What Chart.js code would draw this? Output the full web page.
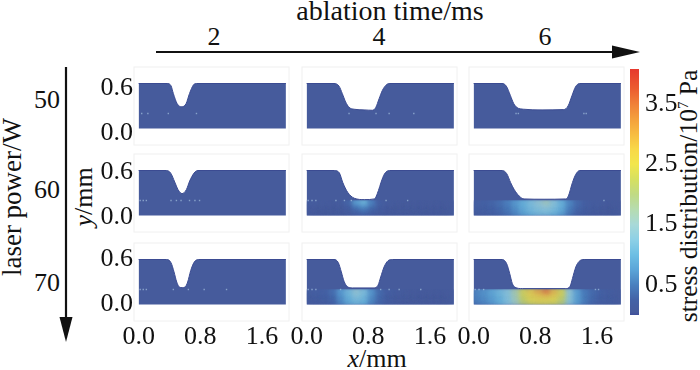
<!DOCTYPE html>
<html>
<head>
<meta charset="utf-8">
<script src="https://cdn.jsdelivr.net/npm/chart.js@4"></script>
<style>
  html, body { margin: 0; padding: 0; background: #fff; }
  #page { position: relative; width: 700px; height: 370px; overflow: hidden; font-family: "Liberation Serif", serif; color: #111; }
  #page canvas { position: absolute; }
  .label { position: absolute; font-size: 26px; line-height: 1; white-space: nowrap; transform: translate(-50%, -50%); }
  .vert { transform: translate(-50%, -50%) rotate(-90deg); }
  sup { font-size: 15px; line-height: 0; }
  svg { position: absolute; left: 0; top: 0; }
</style>
</head>
<body>
<div id="page">
  <svg width="700" height="370">
    <line x1="156" y1="52" x2="616" y2="52" stroke="#111" stroke-width="2.2"/>
    <polygon points="640,52 612,45.5 612,58.5" fill="#111"/>
    <line x1="66" y1="67" x2="66" y2="322" stroke="#111" stroke-width="2.2"/>
    <polygon points="66,342 59.5,317 72.5,317" fill="#111"/>
  </svg>
  <div class="label" style="left:390px;top:11px;font-size:28px">ablation time/ms</div>
  <div class="label" style="left:214px;top:37px">2</div>
  <div class="label" style="left:379px;top:37px">4</div>
  <div class="label" style="left:545px;top:37px">6</div>
  <div class="label" style="left:47px;top:100px">50</div>
  <div class="label" style="left:47px;top:190px">60</div>
  <div class="label" style="left:47px;top:283px">70</div>
  <div class="label vert" style="left:12px;top:197px;font-size:27px">laser power/W</div>
  <div class="label vert" style="left:84px;top:197px"><i>y</i>/mm</div>
  <div class="label" style="left:377px;top:359px"><i>x</i>/mm</div>
  <div class="label vert" style="left:689px;top:196px;font-size:25.5px">stress distribution/10<sup>7</sup> Pa</div>
</div>
<script>
const xTicks = [0, 0.8, 1.6];
const yTicks = [0, 0.6];
const colorbarTicks = [0.5, 1.5, 2.5, 3.5];
const colorbarRange = [0, 4.08];

// surface profile of the ablated groove, [x mm, y mm]
const profile50w2ms = [[0,0.6],[0.37,0.6],[0.42,0.57],[0.45,0.467],[0.5,0.33],[0.56,0.29],[0.615,0.33],[0.66,0.467],[0.71,0.58],[0.75,0.6],[1.91,0.6]];
const profile50w4ms = [[0,0.6],[0.355,0.6],[0.42,0.565],[0.463,0.465],[0.506,0.354],[0.55,0.283],[0.615,0.257],[0.745,0.248],[0.853,0.243],[0.896,0.279],[0.94,0.398],[0.983,0.509],[1.026,0.575],[1.07,0.6],[1.91,0.6]];
const profile50w6ms = [[0,0.6],[0.368,0.6],[0.424,0.565],[0.476,0.442],[0.52,0.332],[0.563,0.279],[0.649,0.257],[0.887,0.248],[1.169,0.252],[1.225,0.301],[1.277,0.442],[1.32,0.553],[1.372,0.6],[1.91,0.6]];
const profile60w2ms = [[0,0.6],[0.359,0.6],[0.416,0.565],[0.468,0.447],[0.511,0.345],[0.563,0.292],[0.619,0.345],[0.662,0.46],[0.719,0.566],[0.77,0.6],[1.91,0.6]];
const profile60w4ms = [[0,0.6],[0.359,0.6],[0.424,0.569],[0.468,0.442],[0.532,0.31],[0.619,0.23],[0.749,0.212],[0.879,0.221],[0.931,0.332],[0.965,0.442],[1.009,0.553],[1.074,0.6],[1.91,0.6]];
const profile60w6ms = [[0,0.6],[0.372,0.6],[0.429,0.558],[0.48,0.438],[0.524,0.35],[0.589,0.261],[0.654,0.221],[0.913,0.217],[1.195,0.221],[1.229,0.261],[1.281,0.438],[1.325,0.549],[1.377,0.6],[1.91,0.6]];
const profile70w2ms = [[0,0.6],[0.364,0.6],[0.42,0.557],[0.459,0.434],[0.494,0.3],[0.528,0.233],[0.565,0.225],[0.602,0.233],[0.636,0.3],[0.675,0.451],[0.719,0.562],[0.775,0.6],[1.91,0.6]];
const profile70w4ms = [[0,0.6],[0.355,0.6],[0.411,0.558],[0.45,0.434],[0.485,0.31],[0.528,0.239],[0.593,0.221],[0.874,0.221],[0.926,0.257],[0.961,0.367],[1.004,0.5],[1.056,0.584],[1.113,0.6],[1.91,0.6]];
const profile70w6ms = [[0,0.6],[0.372,0.6],[0.429,0.543],[0.468,0.412],[0.502,0.279],[0.537,0.23],[0.632,0.212],[1.195,0.212],[1.251,0.243],[1.281,0.345],[1.325,0.5],[1.368,0.575],[1.433,0.6],[1.91,0.6]];

// small bright spots along the weld line
const specks50w2ms = [[0.04,0.2],[0.12,0.2],[0.385,0.2],[0.75,0.2]];
const specks50w4ms = [[0.55,0.2],[0.9,0.2],[1.07,0.2],[1.39,0.2]];
const specks50w6ms = [[0.55,0.2],[0.58,0.2],[1.43,0.2],[1.46,0.2]];
const specks60w2ms = [[0.02,0.2],[0.06,0.2],[0.1,0.2],[0.42,0.2],[0.49,0.2],[0.55,0.2],[0.66,0.2],[0.73,0.2],[0.79,0.2]];
const specks60w4ms = [[0.02,0.2],[0.07,0.2],[0.12,0.2],[0.38,0.2],[0.49,0.2],[0.58,0.2],[1.03,0.2],[1.31,0.2]];
const specks60w6ms = [[1.69,0.2]];
const specks70w2ms = [[0.02,0.2],[0.06,0.2],[0.1,0.2],[0.45,0.2],[0.645,0.2],[0.85,0.2],[1.14,0.2]];
const specks70w4ms = [[0.02,0.2],[0.07,0.2],[0.12,0.2],[0.44,0.2],[0.96,0.2],[1.07,0.2],[1.2,0.2],[1.48,0.2]];
const specks70w6ms = [[0.02,0.2],[0.07,0.2],[0.13,0.2],[1.58,0.2],[1.62,0.2]];

// stress field below the groove, 10^7 Pa
const heatColumns = [0.05,0.15,0.25,0.35,0.45,0.55,0.65,0.75,0.85,0.95,1.05,1.15,1.25,1.35,1.45,1.55,1.65,1.75,1.85];
const heatRows = [[0.15,0.205],[0.1,0.15],[0.05,0.1],[0,0.05]];
const heat60w4ms = [
  [.12,.1,.08,.07,.1,.3,.8,1.05,.55,.2,.1,.07,.05,.05,.05,.05,.05,.05,.05],
  [.08,.07,.06,.06,.08,.2,.5,.65,.38,.15,.08,.05,.05,.05,.05,.05,.05,.05,.05],
  [.06,.05,.05,.05,.06,.14,.32,.42,.26,.12,.06,.05,.05,.05,.05,.05,.05,.05,.05],
  [.05,.05,.05,.05,.05,.1,.2,.26,.18,.09,.05,.05,.05,.05,.05,.05,.05,.05,.05]
];
const heat60w6ms = [
  [.2,.25,.3,.4,.55,.75,1,1.2,1.4,1.6,1.3,1,.6,.35,.2,.12,.1,.06,.05],
  [.18,.22,.28,.37,.5,.7,.95,1.15,1.3,1.4,1.2,.95,.55,.32,.18,.11,.08,.05,.05],
  [.15,.2,.25,.33,.46,.65,.9,1.1,1.2,1.25,1.12,.88,.5,.28,.16,.1,.07,.05,.05],
  [.12,.17,.22,.3,.42,.6,.82,1,1.1,1.12,1,.78,.45,.25,.14,.09,.06,.05,.05]
];
const heat70w4ms = [
  [.15,.2,.25,.4,.75,1.1,1.4,1.2,.7,.35,.2,.12,.08,.05,.05,.05,.05,.05,.05],
  [.13,.17,.22,.35,.7,1.05,1.3,1.12,.66,.33,.17,.1,.07,.05,.05,.05,.05,.05,.05],
  [.11,.14,.19,.3,.65,.95,1.15,1.05,.6,.31,.16,.09,.06,.05,.05,.05,.05,.05,.05],
  [.1,.12,.17,.26,.58,.9,1.05,.95,.55,.3,.15,.08,.05,.05,.05,.05,.05,.05,.05]
];
const heat70w6ms = [
  [.6,.7,.9,1.1,1.3,1.75,2.4,2.75,3.05,3.4,2.9,2.4,1.4,.8,.5,.35,.25,.15,.1],
  [.58,.68,.85,1.05,1.28,1.7,2.35,2.6,2.75,2.85,2.65,2.3,1.35,.8,.5,.33,.22,.15,.1],
  [.55,.65,.8,1,1.26,1.65,2.25,2.5,2.6,2.6,2.5,2.15,1.32,.8,.5,.32,.2,.15,.1],
  [.5,.6,.75,1,1.25,1.6,2.1,2.35,2.45,2.45,2.35,2.05,1.3,.8,.5,.3,.2,.15,.1]
];

// colour scale
const colorStops = [0,0.05,0.25,0.5,0.75,1,1.25,1.5,1.75,2,2.25,2.5,2.75,3,3.25,3.5,3.75,4.08];
const colorValues = ["#3f4f9b","#465b9c","#4462a6","#4a80bf","#5ba5d8","#6dbfe4","#8dd0e6","#a8d9d8","#b6dcb0","#c0da84","#d6e060","#f2e64c","#f8d848","#f7bc42","#f4a03c","#f08038","#ec5c30","#e6392e"];

const rowTops = [66.7, 154, 243];
const colLefts = [134, 301.7, 469.3];
const labelShifts = [0.058, 0.02, 0];
const panels = [
  [profile50w2ms, specks50w2ms, null], [profile50w4ms, specks50w4ms, null], [profile50w6ms, specks50w6ms, null],
  [profile60w2ms, specks60w2ms, null], [profile60w4ms, specks60w4ms, heat60w4ms], [profile60w6ms, specks60w6ms, heat60w6ms],
  [profile70w2ms, specks70w2ms, null], [profile70w4ms, specks70w4ms, heat70w4ms], [profile70w6ms, specks70w6ms, heat70w6ms]
];

const page = document.getElementById("page");
const tickFont = { family: "Liberation Serif", size: 26 };
const noGrid = { display: false, drawTicks: false };
const fillBlue = "#465b9c";

function stressColor(v) {
  let i = 0;
  while (i < colorStops.length - 2 && v > colorStops[i + 1]) i++;
  const t = Math.min(1, (v - colorStops[i]) / (colorStops[i + 1] - colorStops[i]));
  const a = colorValues[i], b = colorValues[i + 1];
  const mix = (s) => Math.round(parseInt(a.substr(s, 2), 16) * (1 - t) + parseInt(b.substr(s, 2), 16) * t);
  return `rgb(${mix(1)},${mix(3)},${mix(5)})`;
}

function addCanvas(left, top, width, height) {
  const canvas = document.createElement("canvas");
  canvas.width = width;
  canvas.height = height;
  canvas.style.left = left + "px";
  canvas.style.top = top + "px";
  canvas.style.width = width + "px";
  canvas.style.height = height + "px";
  page.appendChild(canvas);
  return canvas;
}

// the axes must not push the plot area in, or the nine panels stop lining up
function fixAxisSize(scale, size) {
  if (scale.isHorizontal()) scale.height = size;
  else scale.width = size;
  scale.paddingTop = scale.paddingBottom = scale.paddingLeft = scale.paddingRight = 0;
}

// faint frame round each panel, blurred cells for the soft stress field
const panelPlugin = {
  id: "panelPlugin",
  beforeDatasetDraw(chart, args) {
    if (args.meta.type !== "bar") return;
    const { ctx, scales } = chart;
    ctx.save();
    ctx.beginPath();
    ctx.rect(scales.x.getPixelForValue(0), scales.y.getPixelForValue(0.205), scales.x.getPixelForValue(1.91) - scales.x.getPixelForValue(0), scales.y.getPixelForValue(0) - scales.y.getPixelForValue(0.205));
    ctx.clip();
    ctx.filter = "blur(2px)";
  },
  afterDatasetDraw(chart, args) {
    if (args.meta.type === "bar") chart.ctx.restore();
  },
  afterDraw(chart) {
    const { ctx, chartArea } = chart;
    ctx.save();
    ctx.strokeStyle = "#f0f0f0";
    ctx.lineWidth = 1;
    ctx.strokeRect(chartArea.left, chartArea.top, chartArea.right - chartArea.left, chartArea.bottom - chartArea.top);
    ctx.restore();
  }
};

panels.forEach(([profile, specks, heat], n) => {
  const row = Math.floor(n / 3);
  const col = n % 3;
  const datasets = [{
    type: "scatter",
    data: specks,
    pointStyle: "rect",
    pointRadius: 1,
    pointBackgroundColor: "rgba(190,220,240,0.55)",
    pointBorderWidth: 0,
    showLine: false
  }];
  if (heat) {
    heat.forEach((values, r) => {
      datasets.push({
        type: "bar",
        data: values.map((v, c) => ({ x: heatColumns[c], y: heatRows[r] })),
        backgroundColor: values.map(stressColor),
        barThickness: 8.5,
        grouped: false,
        borderWidth: 0
      });
    });
  }
  datasets.push({
    type: "line",
    data: profile,
    borderColor: "#3b4b92",
    borderWidth: 1,
    backgroundColor: fillBlue,
    fill: "origin",
    pointRadius: 0,
    cubicInterpolationMode: "monotone"
  });

  new Chart(addCanvas(colLefts[col] - 45, rowTops[row] - 4, 204, 114), {
    data: { datasets },
    plugins: [panelPlugin],
    options: {
      responsive: false,
      animation: false,
      layout: { padding: { top: 4, right: 4 } },
      plugins: { legend: { display: false }, tooltip: { enabled: false } },
      scales: {
        x: {
          type: "linear",
          offset: false,
          min: -0.06,
          max: 1.95,
          grid: noGrid,
          border: { display: false },
          afterBuildTicks: (s) => { s.ticks = xTicks.map((value) => ({ value })); },
          afterFit: (s) => fixAxisSize(s, 32),
          ticks: {
            display: row === 2,
            font: tickFont,
            color: "#111",
            padding: 1,
            maxRotation: 0,
            autoSkip: false,
            callback: (v) => v.toFixed(1)
          }
        },
        y: { type: "linear", min: -0.22, max: 0.82, display: false },
        yLabels: {
          type: "linear",
          position: "left",
          min: -0.22 + labelShifts[row],
          max: 0.82 + labelShifts[row],
          grid: noGrid,
          border: { display: false },
          afterBuildTicks: (s) => { s.ticks = yTicks.map((value) => ({ value })); },
          afterFit: (s) => fixAxisSize(s, 45),
          ticks: {
            display: col === 0,
            font: tickFont,
            color: "#111",
            padding: 1,
            autoSkip: false,
            callback: (v) => v.toFixed(1)
          }
        }
      }
    }
  });
});

// colour bar
new Chart(addCanvas(630, 65, 60, 254), {
  type: "bar",
  data: {
    labels: ["stress"],
    datasets: [{
      data: [colorbarRange],
      barPercentage: 1,
      categoryPercentage: 1,
      borderWidth: 0,
      backgroundColor(ctx) {
        const { chart } = ctx;
        if (!chart.chartArea) return colorValues[0];
        const g = chart.ctx.createLinearGradient(0, chart.chartArea.bottom, 0, chart.chartArea.top);
        colorStops.forEach((s, i) => g.addColorStop(s / colorbarRange[1], colorValues[i]));
        return g;
      }
    }]
  },
  options: {
    responsive: false,
    animation: false,
    layout: { padding: { top: 4, bottom: 4 } },
    plugins: { legend: { display: false }, tooltip: { enabled: false } },
    scales: {
      x: { display: false },
      y: {
        position: "right",
        min: colorbarRange[0],
        max: colorbarRange[1],
        grid: noGrid,
        border: { display: false },
        afterBuildTicks: (s) => { s.ticks = colorbarTicks.map((value) => ({ value })); },
        afterFit: (s) => fixAxisSize(s, 51),
        ticks: { font: tickFont, color: "#111", padding: 6, autoSkip: false, callback: (v) => v.toFixed(1) }
      }
    }
  }
});
</script>
</body>
</html>
